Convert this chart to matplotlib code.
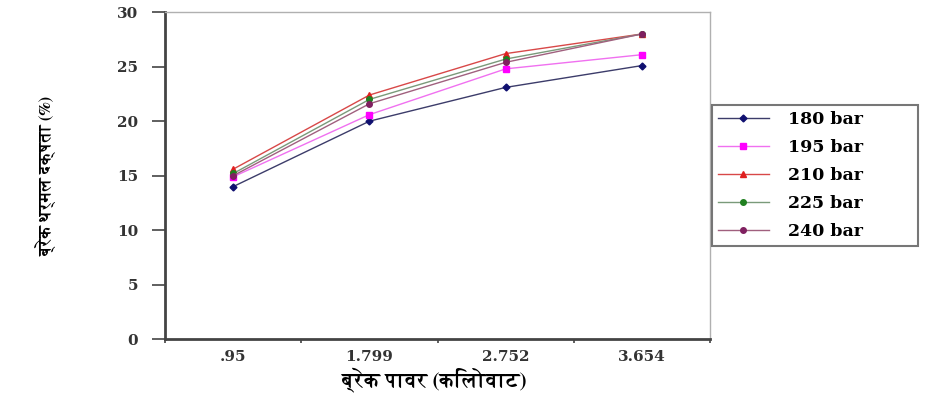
import matplotlib
matplotlib.use("Agg")
import matplotlib.pyplot as plt
import numpy as np

categories = [".95", "1.799", "2.752", "3.654"]
series_names = ["180 bar", "195 bar", "210 bar", "225 bar", "240 bar"]
bar180 = [14.0, 20.0, 23.1, 25.1]
bar195 = [14.9, 20.6, 24.8, 26.1]
bar210 = [15.6, 22.4, 26.2, 28.0]
bar225 = [15.2, 22.0, 25.7, 28.0]
bar240 = [15.0, 21.6, 25.4, 28.0]
yticks = [0, 5, 10, 15, 20, 25, 30]

series = [bar180, bar195, bar210, bar225, bar240]
line_colors = ["#3c3c6a", "#f070f0", "#d84848", "#7a9a7a", "#a0607e"]
marker_colors = ["#101070", "#ff00ff", "#e02020", "#208020", "#802060"]
markers = ["D", "s", "^", "o", "o"]
msizes = [3.5, 5, 5, 4, 4]

tick_font = dict(family=["DejaVu Serif"], weight="bold", size=11)
hindi = ["FreeSerif", "DejaVu Sans"]

fig = plt.figure(figsize=(9.33, 3.93), dpi=100)
ax = fig.add_axes([0.177, 0.137, 0.584, 0.832])

x = np.arange(len(categories))
for vals, name, lc, mc, mk, ms in zip(series, series_names, line_colors,
                                      marker_colors, markers, msizes):
    ax.plot(x, vals, color=lc, lw=1.0, marker=mk, ms=ms,
            markerfacecolor=mc, markeredgecolor=mc, label=name)

ax.set_xlim(-0.5, len(categories) - 0.5)
ax.set_ylim(0, 30)

# category axis: ticks at boundaries, labels at centres
ax.set_xticks(np.arange(len(categories) + 1) - 0.5)
ax.set_xticklabels([])
ax.set_xticks(x, minor=True)
ax.set_xticklabels(categories, minor=True, **tick_font, color="#333333")
ax.tick_params(axis="x", which="major", length=3, width=1.2, color="#444444")
ax.tick_params(axis="x", which="minor", length=0, pad=8)

ax.set_yticks(yticks)
ax.set_yticklabels([str(v) for v in yticks], **tick_font, color="#333333")
ax.tick_params(axis="y", length=9.5, width=1.2, color="#444444", pad=10)

for side in ["left", "bottom"]:
    ax.spines[side].set_color("#444444")
    ax.spines[side].set_linewidth(2)
for side in ["top", "right"]:
    ax.spines[side].set_color("#b0b0b0")
    ax.spines[side].set_linewidth(1)

ax.set_xlabel("ब्रेक पावर (किलोवाट)", family=hindi, weight="bold",
              fontsize=15)
ax.xaxis.set_label_coords(0.495, -0.085)
ax.set_ylabel("ब्रेक थर्मल दक्षता (%)", family=hindi, weight="bold",
              fontsize=12)
ax.yaxis.set_label_coords(-0.2, 0.5)

leg = ax.legend(loc="center left", bbox_to_anchor=(1.004, 0, 0.378, 1),
                mode="expand",
                prop=dict(family="DejaVu Serif", weight="bold", size=12.5),
                frameon=True, fancybox=False, edgecolor="#555555",
                handlelength=2.9, borderpad=0.35, labelspacing=0.63,
                handletextpad=1.1, borderaxespad=0)
leg.get_frame().set_linewidth(1.5)

plt.savefig("out.png", dpi=100)
